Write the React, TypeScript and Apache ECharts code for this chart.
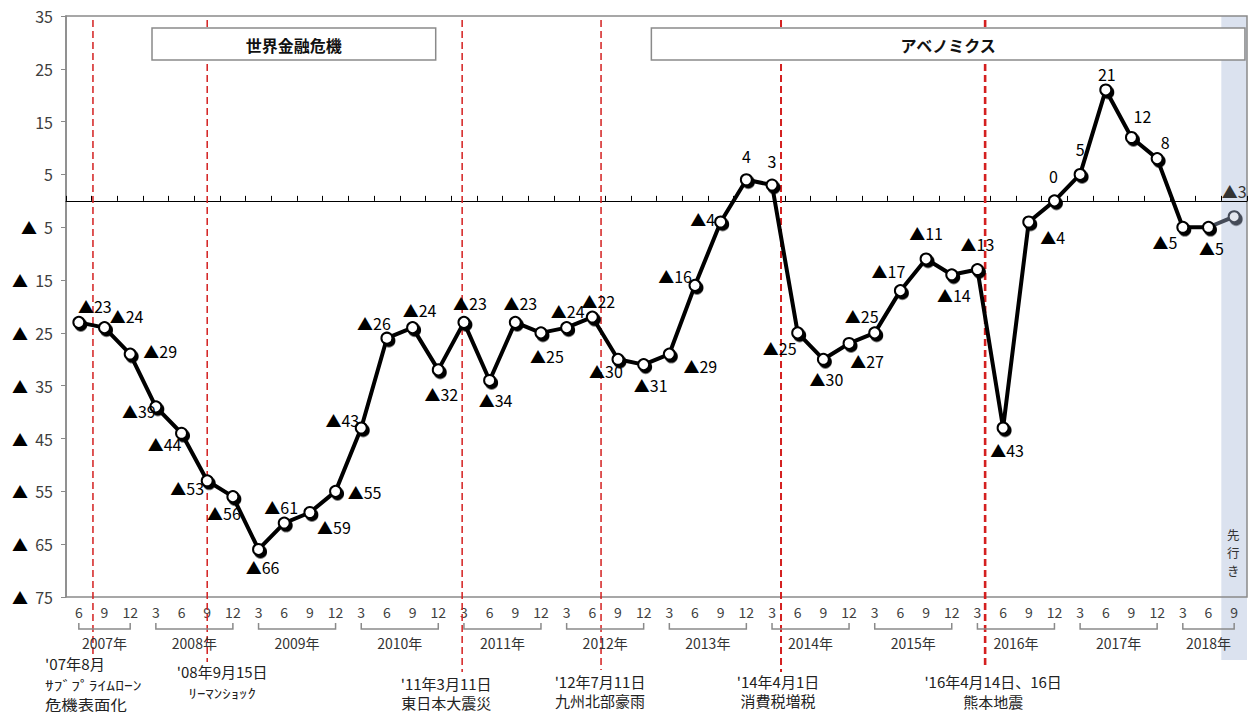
import React, { useEffect, useRef } from 'react';
import * as echarts from 'echarts';

// ---- data ----
const categories = [
  '2007/6', '2007/9', '2007/12',
  '2008/3', '2008/6', '2008/9', '2008/12',
  '2009/3', '2009/6', '2009/9', '2009/12',
  '2010/3', '2010/6', '2010/9', '2010/12',
  '2011/3', '2011/6', '2011/9', '2011/12',
  '2012/3', '2012/6', '2012/9', '2012/12',
  '2013/3', '2013/6', '2013/9', '2013/12',
  '2014/3', '2014/6', '2014/9', '2014/12',
  '2015/3', '2015/6', '2015/9', '2015/12',
  '2016/3', '2016/6', '2016/9', '2016/12',
  '2017/3', '2017/6', '2017/9', '2017/12',
  '2018/3', '2018/6', '2018/9',
];

const diActual = [
  -23, -24, -29,
  -39, -44, -53, -56,
  -66, -61, -59, -55,
  -43, -26, -24, -32,
  -23, -34, -23, -25,
  -24, -22, -30, -31,
  -29, -16, -4, 4,
  3, -25, -30, -27,
  -25, -17, -11, -14,
  -13, -43, -4, 0,
  5, 21, 12, 8,
  -5, -5,
];
const diForecast = -3; // 2018/9 先行き

const yearSuffix = '年';

const periodNames = ['世界金融危機', 'アベノミクス'];
const periodFrom = [2.85, 22.3];
const periodTo = [13.9, 45.42];

const eventIndex = [0.55, 5.0, 14.93, 20.34, 27.35, 35.3];
const eventTexts = [
  ["'07年8月", 'ｻﾌﾞﾌﾟﾗｲﾑﾛｰﾝ', '危機表面化'],
  ["'08年9月15日", 'ﾘｰﾏﾝｼｮｯｸ'],
  ["'11年3月11日", '東日本大震災'],
  ["'12年7月11日", '九州北部豪雨'],
  ["'14年4月1日", '消費税増税'],
  ["'16年4月14日、16日", '熊本地震'],
];
const forecastChars = ['先', '行', 'き'];

// ---- label placement (offset of label centre from point, px) ----
const labelOffsets: number[][] = [
  [16, -16], [22, -12], [30, -3],
  [-17, 4], [-17, 11], [-20, 7], [-9, 16],
  [4, 18], [-3, -16], [24, 15], [29, 1],
  [-19, -8], [-13, -15], [7, -18], [3, 24],
  [6, -19], [6, 20], [5, -19], [6, 23],
  [1, -17], [6, -16], [-12, 12], [7, 20],
  [31, 12], [-20, -9], [-18, -3], [0, -24],
  [0, -24], [-18, 15], [3, 20], [18, 18],
  [-13, -17], [-12, -20], [0, -26], [2, 20],
  [0, -26], [4, 22], [24, 15], [-1, -25],
  [0, -25], [1, -16], [11, -21], [8, -17],
  [-18, 15], [3, 21], [0, -26],
];

// event line style / annotation layout
const eventLineWidth = [1.5, 1.5, 1.5, 1.5, 2, 2.6];
const eventLineBottom = [660, 662, 672, 670, 672, 668];
const eventTextLayout = [
  { dx: -48, align: 'left', ys: [664, 684.5, 704], sizes: [14.5, 13, 14], sx: [1.05, 1.35, 1.17] },
  { dx: 15, align: 'center', ys: [671, 692], sizes: [15, 13], sx: [1, 1.3] },
  { dx: -16, align: 'center', ys: [683, 702], sizes: [15, 15], sx: [1, 1] },
  { dx: -1, align: 'center', ys: [681, 700], sizes: [15, 15], sx: [1, 1] },
  { dx: -3, align: 'center', ys: [681, 700], sizes: [15, 15], sx: [1, 1] },
  { dx: 8, align: 'center', ys: [681, 701], sizes: [15, 15], sx: [1, 1] },
];

const FONT = "'Noto Sans CJK JP', 'Noto Sans', sans-serif";

const fmt = (v: number) => (v < 0 ? '▲' + -v : String(v));

export default function App() {
  const ref = useRef<HTMLDivElement>(null);

  useEffect(() => {
    document.body.style.margin = '0';
    const chart = echarts.init(ref.current!, null, { renderer: 'svg' });

    const n = categories.length;
    const mainData: any[] = categories.map((_, i) =>
      i < diActual.length
        ? { value: diActual[i], label: { offset: labelOffsets[i] } }
        : '-'
    );
    const lastIdx = diActual.length - 1;
    const fcData: any[] = categories.map((_, i) => {
      if (i === lastIdx) return { value: diActual[i], symbol: 'none', label: { show: false } };
      if (i === n - 1) return { value: diForecast, label: { offset: labelOffsets[i] } };
      return '-';
    });

    const labelBase = {
      show: true,
      position: 'inside',
      formatter: (p: any) => fmt(p.value),
      color: '#000',
      fontSize: 16,
      fontFamily: FONT,
      textBorderWidth: 0,
    };

    const option: any = {
      animation: false,
      textStyle: { fontFamily: FONT },
      grid: {
        left: 66, right: 3, top: 16, bottom: 118,
        show: true, borderColor: '#8a8a8a', borderWidth: 1.5,
        backgroundColor: 'transparent', containLabel: false, outerBoundsMode: 'none',
      },
      xAxis: [
        {
          type: 'category', data: categories, position: 'bottom', boundaryGap: true,
          axisLine: { onZero: true, lineStyle: { color: '#000', width: 1 } },
          axisTick: { show: true, inside: true, length: 5, interval: 0, lineStyle: { color: '#000' } },
          axisLabel: { show: false }, splitLine: { show: false },
        },
        {
          type: 'category', data: categories, position: 'bottom', boundaryGap: true,
          axisLine: { show: false, onZero: false }, axisTick: { show: false },
          axisLabel: {
            interval: 0, formatter: (v: string) => v.split('/')[1],
            color: '#404040', fontSize: 14, margin: 8, fontFamily: FONT,
          },
          splitLine: { show: false },
        },
        { type: 'value', min: -0.5, max: n - 0.5, show: false },
      ],
      yAxis: {
        type: 'value', min: -75, max: 35, interval: 10,
        axisLine: { show: true, onZero: false, lineStyle: { color: '#8a8a8a', width: 1.5 } },
        axisTick: { show: true, length: 5, lineStyle: { color: '#8a8a8a' } },
        splitLine: { show: false },
        axisLabel: {
          margin: 13, fontSize: 16, color: '#404040', fontFamily: FONT,
          formatter: (v: number) => (v >= 0 ? String(v) : '{t|▲}  ' + -v),
          rich: { t: { color: '#000', fontSize: 16, fontFamily: FONT } },
        },
      },
      series: [
        {
          type: 'line', name: 'forecast', xAxisIndex: 0, yAxisIndex: 0, data: fcData, z: 4,
          symbol: 'circle', symbolSize: 11, showAllSymbol: true,
          lineStyle: { color: '#454b58', width: 4 },
          itemStyle: {
            color: '#e4e7ee', borderColor: '#454b58', borderWidth: 2,
            shadowColor: '#454b58', shadowBlur: 1, shadowOffsetX: 2, shadowOffsetY: 2.5,
          },
          label: { ...labelBase, color: '#333' },
        },
        {
          type: 'line', name: 'DI', xAxisIndex: 0, yAxisIndex: 0, data: mainData, z: 5,
          symbol: 'circle', symbolSize: 11, showAllSymbol: true,
          lineStyle: { color: '#000', width: 4 },
          itemStyle: {
            color: '#fff', borderColor: '#000', borderWidth: 2,
            shadowColor: '#000', shadowBlur: 1, shadowOffsetX: 2, shadowOffsetY: 2.5,
          },
          label: labelBase,
        },
      ],
    };

    chart.setOption(option);

    const xp = (v: number) => chart.convertToPixel({ xAxisIndex: 2 }, v) as number;
    const yp = (v: number) => chart.convertToPixel({ yAxisIndex: 0 }, v) as number;
    const top = yp(35);
    const bottom = yp(-75);

    const g: any[] = [];
    const txt = (text: string, x: number, y: number, size: number, align: string, extra: any = {}, sx = 1) => ({
      type: 'text', x, y, z: 6, silent: true, scaleX: sx,
      style: {
        text, fill: '#222', fontSize: size, fontFamily: FONT, lineHeight: size,
        align, verticalAlign: 'middle', textAlign: align, textVerticalAlign: 'middle', ...extra,
      },
    });

    // forecast shading
    const sx1 = xp(n - 1.5);
    const sx2 = xp(n - 0.5);
    g.push({
      type: 'rect', z: -1, silent: true,
      shape: { x: sx1, y: top, width: sx2 - sx1, height: 660 - top },
      style: { fill: '#dbe2ef' },
    });
    forecastChars.forEach((ch, j) => {
      g.push(txt(ch, (sx1 + sx2) / 2 - 1, 534 + j * 18, 12.5, 'center', { fill: '#333' }));
    });

    // event lines
    eventIndex.forEach((ei, k) => {
      const x = xp(ei);
      g.push({
        type: 'line', z: 1, silent: true,
        shape: { x1: x, y1: top + 4, x2: x, y2: eventLineBottom[k] },
        style: { stroke: '#d42020', lineWidth: eventLineWidth[k], lineDash: [7, 4] },
      });
      const lay = eventTextLayout[k];
      eventTexts[k].forEach((t, j) => {
        g.push(txt(t, x + lay.dx, lay.ys[j], lay.sizes[j], lay.align, {}, lay.sx[j]));
      });
    });

    // year brackets
    const years: string[] = [];
    categories.forEach((c) => {
      const y = c.split('/')[0];
      if (!years.includes(y)) years.push(y);
    });
    years.forEach((yr) => {
      const idx = categories.map((c, i) => (c.startsWith(yr + '/') ? i : -1)).filter((i) => i >= 0);
      const x1 = xp(idx[0]);
      const x2 = xp(idx[idx.length - 1]);
      const by = bottom + 32;
      g.push({
        type: 'polyline', z: 2, silent: true,
        shape: { points: [[x1, by - 6], [x1, by], [x2, by], [x2, by - 6]] },
        style: { stroke: '#8a8a8a', lineWidth: 1.5, fill: null },
      });
      g.push(txt(yr + yearSuffix, (x1 + x2) / 2, bottom + 46, 14, 'center', { fill: '#333' }));
    });

    // period boxes
    periodNames.forEach((name, k) => {
      const x1 = xp(periodFrom[k]);
      const x2 = xp(periodTo[k]);
      g.push({
        type: 'rect', z: 3, silent: true,
        shape: { x: x1, y: 28, width: x2 - x1, height: 32 },
        style: { fill: '#fff', stroke: '#8a8a8a', lineWidth: 1.5 },
      });
      g.push(txt(name, (x1 + x2) / 2, 44.5, 16, 'center', { fill: '#111', fontWeight: 'bold' }));
    });

    chart.setOption({ graphic: g });

    return () => {
      chart.dispose();
    };
  }, []);

  return (
    <div
      ref={ref}
      style={{ position: 'absolute', left: 0, top: 0, width: 1250, height: 715 }}
    />
  );
}
